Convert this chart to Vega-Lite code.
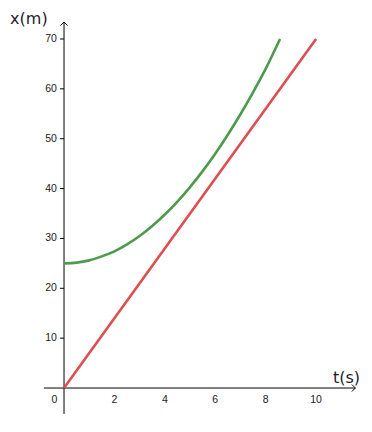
{
  "$schema": "https://vega.github.io/schema/vega-lite/v6.json",
  "width": 372,
  "height": 432,
  "autosize": {"type": "fit", "contains": "padding"},
  "padding": 0,
  "background": "white",
  "config": {"view": {"stroke": null}},
  "layer": [
    {
      "data": {"values": [
        {"a": -0.8, "a2": 11.56, "b": 0, "b2": 0},
        {"a": 0, "a2": 0, "b": -5.2, "b2": 73.4}
      ]},
      "mark": {"type": "rule", "color": "#000000", "strokeWidth": 1},
      "encoding": {
        "x": {"field": "a", "type": "quantitative", "scale": {"domain": [-2.54, 12.22], "nice": false, "zero": false}, "axis": null},
        "x2": {"field": "a2"},
        "y": {"field": "b", "type": "quantitative", "scale": {"domain": [-8.82, 77.82], "nice": false, "zero": false}, "axis": null},
        "y2": {"field": "b2"}
      }
    },
    {
      "data": {"values": [{"a": 11.56, "b": 0}]},
      "mark": {"type": "point", "shape": "M-1,-1L0,0L-1,1", "filled": false, "stroke": "#000000", "strokeWidth": 1, "size": 49, "opacity": 1},
      "encoding": {
        "x": {"field": "a", "type": "quantitative"},
        "y": {"field": "b", "type": "quantitative"}
      }
    },
    {
      "data": {"values": [{"a": 0, "b": 73.4}]},
      "mark": {"type": "point", "shape": "M-1,1L0,0L1,1", "filled": false, "stroke": "#000000", "strokeWidth": 1, "size": 49, "opacity": 1},
      "encoding": {
        "x": {"field": "a", "type": "quantitative"},
        "y": {"field": "b", "type": "quantitative"}
      }
    },
    {
      "data": {"values": [
        {"v": 10, "lab": "10"}, {"v": 20, "lab": "20"}, {"v": 30, "lab": "30"},
        {"v": 40, "lab": "40"}, {"v": 50, "lab": "50"}, {"v": 60, "lab": "60"}, {"v": 70, "lab": "70"}
      ]},
      "layer": [
        {
          "mark": {"type": "rule", "color": "#000000", "strokeWidth": 1},
          "encoding": {
            "x": {"datum": -0.16, "type": "quantitative"},
            "x2": {"datum": 0},
            "y": {"field": "v", "type": "quantitative"}
          }
        },
        {
          "mark": {"type": "text", "align": "right", "baseline": "middle", "font": "Liberation Sans", "fontSize": 10.5, "color": "#1a1a1a"},
          "encoding": {
            "x": {"datum": -0.28, "type": "quantitative"},
            "y": {"field": "v", "type": "quantitative"},
            "text": {"field": "lab"}
          }
        }
      ]
    },
    {
      "data": {"values": [
        {"v": -0.38, "lab": "0"}, {"v": 2, "lab": "2"}, {"v": 4, "lab": "4"},
        {"v": 6, "lab": "6"}, {"v": 8, "lab": "8"}, {"v": 10, "lab": "10"}
      ]},
      "mark": {"type": "text", "align": "center", "baseline": "middle", "font": "Liberation Sans", "fontSize": 10.5, "color": "#1a1a1a"},
      "encoding": {
        "x": {"field": "v", "type": "quantitative"},
        "y": {"datum": -2.4, "type": "quantitative"},
        "text": {"field": "lab"}
      }
    },
    {
      "data": {"values": [{"t": 0, "x": 0}, {"t": 10, "x": 70}]},
      "mark": {"type": "line", "color": "#dd4f4f", "strokeWidth": 2.6, "clip": true},
      "encoding": {
        "x": {"field": "t", "type": "quantitative"},
        "y": {"field": "x", "type": "quantitative"}
      }
    },
    {
      "data": {"values": [
        {"t": 0, "x": 25}, {"t": 0.5, "x": 25.15}, {"t": 1, "x": 25.6}, {"t": 1.5, "x": 26.4},
        {"t": 2, "x": 27.4}, {"t": 2.5, "x": 28.8}, {"t": 3, "x": 30.5}, {"t": 3.5, "x": 32.5},
        {"t": 4, "x": 34.8}, {"t": 4.5, "x": 37.4}, {"t": 5, "x": 40.3}, {"t": 5.5, "x": 43.5},
        {"t": 6, "x": 47.0}, {"t": 6.5, "x": 50.8}, {"t": 7, "x": 54.9}, {"t": 7.5, "x": 59.3},
        {"t": 8, "x": 64.0}, {"t": 8.57, "x": 70}
      ]},
      "mark": {"type": "line", "color": "#4d9a4d", "strokeWidth": 2.6, "interpolate": "monotone"},
      "encoding": {
        "x": {"field": "t", "type": "quantitative"},
        "y": {"field": "x", "type": "quantitative"}
      }
    },
    {
      "data": {"values": [
        {"a": -2.14, "b": 73.0, "lab": "x(m)"},
        {"a": 10.67, "b": 1.0, "lab": "t(s)"}
      ]},
      "mark": {"type": "text", "align": "left", "baseline": "alphabetic", "font": "DejaVu Sans", "fontSize": 16, "color": "#1c2233"},
      "encoding": {
        "x": {"field": "a", "type": "quantitative"},
        "y": {"field": "b", "type": "quantitative"},
        "text": {"field": "lab"}
      }
    }
  ]
}
